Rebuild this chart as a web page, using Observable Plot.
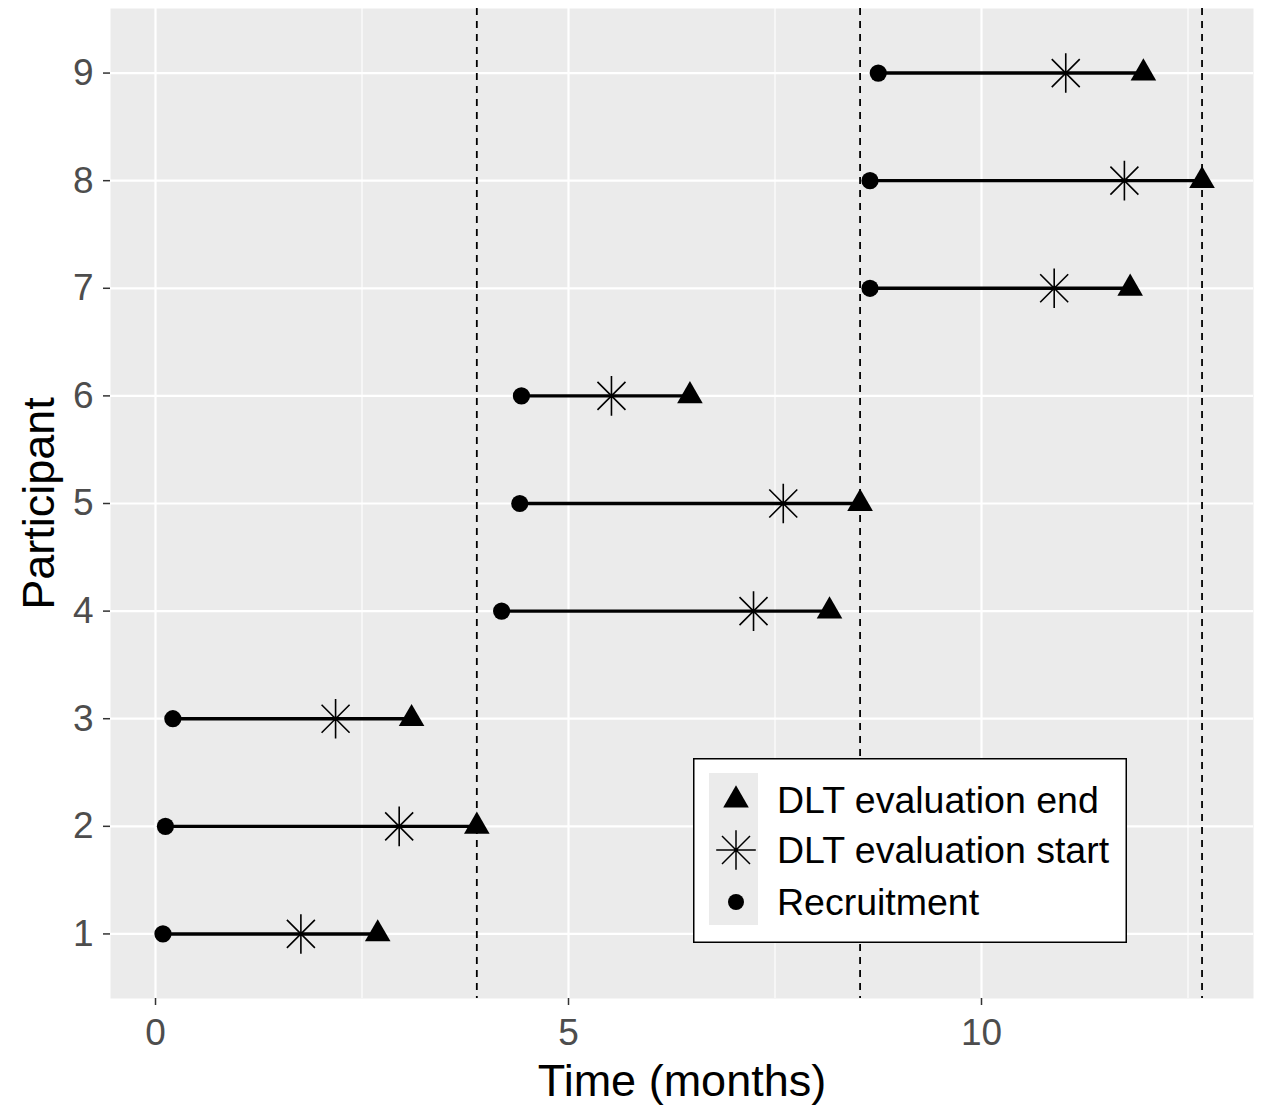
<!DOCTYPE html>
<html><head><meta charset="utf-8">
<script src="https://cdn.jsdelivr.net/npm/d3@7"></script>
<script src="https://cdn.jsdelivr.net/npm/@observablehq/plot@0.6"></script>
<style>
html,body{margin:0;padding:0;background:#fff;}
#wrap{position:relative;width:1263px;height:1108px;font-family:"Liberation Sans",Arial,sans-serif;}
#legend{position:absolute;left:693px;top:758px;}
</style></head><body><div id="wrap"></div>
<script>
// ---- data (months) ----
const participants = [1, 2, 3, 4, 5, 6, 7, 8, 9];
const recruitment  = [0.09, 0.12, 0.21, 4.19, 4.41, 4.43, 8.65, 8.65, 8.75];
const dltStart     = [1.76, 2.95, 2.18, 7.24, 7.60, 5.52, 10.88, 11.73, 11.02];
const dltEnd       = [2.69, 3.89, 3.10, 8.16, 8.53, 6.47, 11.80, 12.67, 11.96];
const cohortCutoffs = [3.89, 8.53, 12.67];
const xTicks = [0, 5, 10];
const xMinorTicks = [2.5, 7.5, 12.5];
const yTicks = [1, 2, 3, 4, 5, 6, 7, 8, 9];
const legendLabels = ["DLT evaluation end", "DLT evaluation start", "Recruitment"];

const rows = participants.map((p, i) => ({p, recruit: recruitment[i], start: dltStart[i], end: dltEnd[i]}));

// ggplot shape 8 style asterisk: "+" plus "x"
const asterisk = {
  draw(ctx, size) {
    const r = Math.sqrt(size / Math.PI);
    const R = r * Math.SQRT2;
    ctx.moveTo(0, -R); ctx.lineTo(0, R);
    ctx.moveTo(-R, 0); ctx.lineTo(R, 0);
    ctx.moveTo(-r, -r); ctx.lineTo(r, r);
    ctx.moveTo(-r, r); ctx.lineTo(r, -r);
  }
};

const font = '"Liberation Sans", Arial, sans-serif';
const chart = Plot.plot({
  width: 1263, height: 1108,
  marginLeft: 110, marginRight: 10, marginTop: 8, marginBottom: 110,
  style: {fontFamily: font, background: "white", overflow: "visible"},
  x: {domain: [-0.545, 13.293]},
  y: {domain: [0.4, 9.6]},
  marks: [
    Plot.frame({fill: "#EBEBEB", stroke: null}),
    Plot.gridX(xMinorTicks, {stroke: "white", strokeOpacity: 1, strokeWidth: 1.1}),
    Plot.gridX(xTicks, {stroke: "white", strokeOpacity: 1, strokeWidth: 2.2}),
    Plot.gridY(yTicks, {stroke: "white", strokeOpacity: 1, strokeWidth: 2.2}),
    Plot.axisX({ticks: xTicks, tickSize: 7, tickPadding: 13, fontSize: 37, stroke: "#333333", strokeWidth: 1.5, fill: "#4D4D4D", label: null, tickFormat: d => String(d)}),
    Plot.axisX({ticks: [], tickSize: 0, label: "Time (months)", labelArrow: "none", labelAnchor: "center", labelOffset: 97, fontSize: 45, fill: "black"}),
    Plot.axisY({ticks: yTicks, tickSize: 7, tickPadding: 10, fontSize: 37, stroke: "#333333", strokeWidth: 1.5, fill: "#4D4D4D", label: null, tickFormat: d => String(d)}),
    Plot.axisY({ticks: [], tickSize: 0, label: "Participant", labelArrow: "none", labelAnchor: "center", labelOffset: 88, fontSize: 45, fill: "black"}),
    Plot.ruleY(rows, {y: "p", x1: "recruit", x2: "end", stroke: "black", strokeWidth: 3.4}),
    Plot.ruleX(cohortCutoffs, {stroke: "black", strokeWidth: 1.8, strokeDasharray: "7,6"}),
    Plot.dot(rows, {x: "recruit", y: "p", r: 8.6, symbol: "circle", fill: "black", stroke: null}),
    Plot.dot(rows, {x: "start", y: "p", r: 14, symbol: asterisk, fill: "none", stroke: "black", strokeWidth: 1.6}),
    Plot.dot(rows, {x: "end", y: "p", r: 9.5, symbol: "triangle", fill: "black", stroke: null})
  ]
});
document.getElementById("wrap").appendChild(chart);

// ---- legend (inside panel, bottom right) ----
const lg = d3.select("#wrap").append("svg").attr("id", "legend")
  .attr("width", 434).attr("height", 185);
lg.append("rect").attr("x", 0.75).attr("y", 0.75).attr("width", 432.5).attr("height", 183.5)
  .attr("fill", "white").attr("stroke", "black").attr("stroke-width", 1.5);
lg.append("rect").attr("x", 16).attr("y", 15).attr("width", 49).attr("height", 152).attr("fill", "#EBEBEB");
const symYs = [42, 92, 144];
const triPath = d3.symbol(d3.symbolTriangle, Math.PI * 9.5 * 9.5)();
const astPath = d3.symbol(asterisk, Math.PI * 14 * 14)();
lg.append("path").attr("d", triPath).attr("transform", `translate(43,${symYs[0]})`).attr("fill", "black");
lg.append("path").attr("d", astPath).attr("transform", `translate(43,${symYs[1]})`).attr("fill", "none").attr("stroke", "black").attr("stroke-width", 1.5);
lg.append("circle").attr("cx", 43).attr("cy", symYs[2]).attr("r", 8).attr("fill", "black");
lg.selectAll("text.lab").data(legendLabels).join("text").attr("class", "lab")
  .attr("x", 84).attr("y", (d, i) => symYs[i] + 13)
  .attr("font-family", font).attr("font-size", 37.5).attr("fill", "black").text(d => d);
</script>
</body></html>
